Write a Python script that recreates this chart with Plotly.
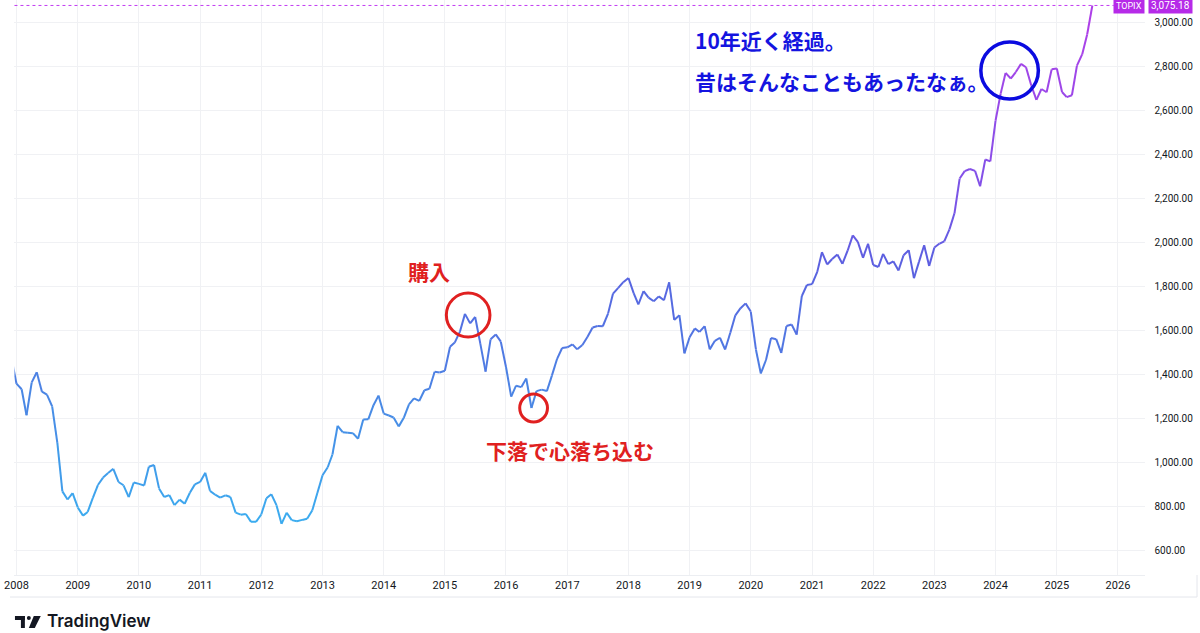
import pandas as pd
import plotly.graph_objects as go
from plotly.colors import sample_colorscale

# TOPIX monthly closes (Dec 2007 -> Aug 2025)
v2007 = [1475.7]
v2008 = [1356.4, 1330.9, 1213.0, 1362.4, 1408.1, 1320.1, 1306.3, 1253.5, 1087.4, 867.1, 830.1, 859.2]
v2009 = [794.0, 756.7, 773.7, 837.8, 895.8, 929.8, 950.3, 969.8, 909.8, 894.7, 841.2, 907.6]
v2010 = [901.1, 894.1, 978.8, 987.0, 880.5, 841.4, 850.2, 804.7, 829.5, 810.9, 860.9, 898.8]
v2011 = [910.1, 951.3, 869.4, 851.9, 838.5, 849.2, 841.4, 770.5, 761.2, 764.1, 728.5, 728.6]
v2012 = [761.9, 836.0, 854.4, 804.3, 719.5, 770.1, 736.3, 731.6, 737.4, 742.3, 781.5, 859.8]
v2013 = [940.3, 976.5, 1034.7, 1165.1, 1135.8, 1133.8, 1131.7, 1106.1, 1194.1, 1194.3, 1258.7, 1302.3]
v2014 = [1220.6, 1211.7, 1202.9, 1162.4, 1201.4, 1262.6, 1289.4, 1278.0, 1326.3, 1333.6, 1410.3, 1407.5]
v2015 = [1415.1, 1523.9, 1543.1, 1592.8, 1673.7, 1630.4, 1659.5, 1537.1, 1411.2, 1558.2, 1580.3, 1547.3]
v2016 = [1432.1, 1297.9, 1347.2, 1340.6, 1379.8, 1245.8, 1322.7, 1329.5, 1322.8, 1393.0, 1469.4, 1518.6]
v2017 = [1521.7, 1535.3, 1512.6, 1531.8, 1568.4, 1611.9, 1618.6, 1617.4, 1674.8, 1766.0, 1792.1, 1817.6]
v2018 = [1836.7, 1768.2, 1716.3, 1777.2, 1747.5, 1730.9, 1753.3, 1735.4, 1817.3, 1646.1, 1667.5, 1494.1]
v2019 = [1567.5, 1607.7, 1591.6, 1617.9, 1512.3, 1551.1, 1565.1, 1511.9, 1587.8, 1667.0, 1699.4, 1721.4]
v2020 = [1684.4, 1510.9, 1403.0, 1464.0, 1563.7, 1558.8, 1496.1, 1618.2, 1625.5, 1579.3, 1754.9, 1804.7]
v2021 = [1808.8, 1864.5, 1954.0, 1898.2, 1923.0, 1943.6, 1901.1, 1960.7, 2030.2, 2001.2, 1928.4, 1992.3]
v2022 = [1895.9, 1886.9, 1946.4, 1899.6, 1912.7, 1870.8, 1940.3, 1963.2, 1835.9, 1910.0, 1985.6, 1891.7]
v2023 = [1975.3, 1993.3, 2003.5, 2057.5, 2130.6, 2288.6, 2322.6, 2332.0, 2323.4, 2253.7, 2374.9, 2366.4]
v2024 = [2551.1, 2675.7, 2768.6, 2743.2, 2772.5, 2809.6, 2794.3, 2712.6, 2645.9, 2695.5, 2680.7, 2784.9]
v2025 = [2788.7, 2682.1, 2658.7, 2667.3, 2801.6, 2852.8, 2943.1, 3075.18]

topix = (v2007 + v2008 + v2009 + v2010 + v2011 + v2012 + v2013 + v2014 + v2015
         + v2016 + v2017 + v2018 + v2019 + v2020 + v2021 + v2022 + v2023 + v2024 + v2025)
months = pd.date_range("2007-12-01", periods=len(topix), freq="MS")
last_value = topix[-1]

W, H = 1200, 633


def px(x):
    return x / W


def py(y):
    return 1 - y / H


# price-based gradient like the TradingView line
grad = [[0.0, "#3aaef0"], [0.25, "#4a86e4"], [0.5, "#5a60e0"],
        [0.67, "#8450e8"], [1.0, "#b43ee8"]]
lo, hi = 700, 3100

fig = go.Figure()
for i in range(len(topix) - 1):
    mid = (topix[i] + topix[i + 1]) / 2
    t = min(max((mid - lo) / (hi - lo), 0), 1)
    col = sample_colorscale(grad, [t])[0]
    fig.add_trace(go.Scatter(
        x=months[i:i + 2], y=topix[i:i + 2], mode="lines",
        line=dict(color=col, width=2), hoverinfo="skip", showlegend=False
    ))

shapes = []
# last price dotted line
shapes.append(dict(type="line", xref="paper", yref="y", x0=px(4.5), x1=px(1113),
                   y0=last_value, y1=last_value,
                   line=dict(color="#c23cf2", width=1, dash="dot")))
# circles
shapes.append(dict(type="circle", xref="paper", yref="paper",
                   x0=px(440), x1=px(484), y0=py(337), y1=py(293),
                   line=dict(color="#e02020", width=3)))
shapes.append(dict(type="circle", xref="paper", yref="paper",
                   x0=px(514), x1=px(542), y0=py(422), y1=py(394),
                   line=dict(color="#e02020", width=3)))
shapes.append(dict(type="circle", xref="paper", yref="paper",
                   x0=px(979), x1=px(1037), y0=py(99), y1=py(42),
                   line=dict(color="#0b0be0", width=3.5)))
# bottom border of time scale
shapes.append(dict(type="line", xref="paper", yref="paper", x0=0, x1=px(1197),
                   y0=py(597), y1=py(597), line=dict(color="#e4e6ec", width=1)))
shapes.append(dict(type="line", xref="paper", yref="paper", x0=px(1197), x1=px(1197),
                   y0=py(575), y1=py(597), line=dict(color="#e4e6ec", width=1)))
# TradingView logo
logo = "#131722"
shapes.append(dict(type="rect", xref="paper", yref="paper", x0=px(5), x1=px(15),
                   y0=py(620), y1=py(616), fillcolor=logo, line=dict(width=0)))
shapes.append(dict(type="rect", xref="paper", yref="paper", x0=px(11), x1=px(15),
                   y0=py(628), y1=py(616), fillcolor=logo, line=dict(width=0)))
shapes.append(dict(type="circle", xref="paper", yref="paper", x0=px(17), x1=px(21),
                   y0=py(620), y1=py(616), fillcolor=logo, line=dict(width=0)))
shapes.append(dict(type="path", xref="paper", yref="paper",
                   path=f"M {px(24)},{py(616)} L {px(31)},{py(616)} L {px(25)},{py(628)} L {px(19)},{py(628)} Z",
                   fillcolor=logo, line=dict(width=0)))

jp = "Noto Sans CJK JP"
red = "#e02020"
blue = "#1414e0"
annotations = [
    dict(text="購入", x=px(423), y=py(271), xanchor="center", yanchor="middle",
         font=dict(family=jp, size=21, color=red, weight="bold")),
    dict(text="下落で心落ち込む", x=px(478), y=py(450), xanchor="left", yanchor="middle",
         font=dict(family=jp, size=21, color=red, weight="bold")),
    dict(text="10年近く経過。", x=px(689), y=py(40), xanchor="left", yanchor="middle",
         font=dict(family=jp, size=21, color=blue, weight="bold")),
    dict(text="昔はそんなこともあったなぁ。", x=px(689), y=py(81), xanchor="left", yanchor="middle",
         font=dict(family=jp, size=21, color=blue, weight="bold")),
    dict(text="TOPIX", x=px(1128), y=py(6), xanchor="center", yanchor="middle",
         bgcolor="#b62ae8", borderpad=2,
         font=dict(family="Roboto", size=9, color="white")),
    dict(text="3,075.18", x=px(1170), y=py(6), xanchor="center", yanchor="middle",
         bgcolor="#b62ae8", borderpad=2,
         font=dict(family="Roboto", size=10, color="white")),
    dict(text="TradingView", x=px(35), y=py(621), xanchor="left", yanchor="middle",
         font=dict(family="Inter", size=17, color=logo, weight=600)),
]
for a in annotations:
    a.update(xref="paper", yref="paper", showarrow=False)

fig.update_layout(
    width=W, height=H,
    margin=dict(l=0, r=0, t=0, b=0),
    paper_bgcolor="white", plot_bgcolor="white",
    shapes=shapes, annotations=annotations,
    xaxis=dict(
        domain=[px(4.5), px(1145)],
        range=["2007-12-20", "2026-06-14"],
        type="date", tick0="2008-01-01", dtick="M12", tickformat="%Y",
        showgrid=True, gridcolor="#f0f1f4", gridwidth=1,
        showline=True, linecolor="#eceef2", zeroline=False,
        ticklabeloverflow="allow",
        tickfont=dict(family="Roboto", size=11, color="#131722"),
    ),
    yaxis=dict(
        domain=[py(575), 1],
        range=[487, 3100], side="right",
        tick0=0, dtick=200, tickformat=",.2f",
        showgrid=True, gridcolor="#f0f1f4", gridwidth=1,
        zeroline=False, ticklabelstandoff=8,
        tickfont=dict(family="Roboto", size=10, color="#131722"),
    ),
)

fig.write_html(
    "out.html",
    config={"displayModeBar": False},
    post_script="document.body.style.margin='0';document.body.style.overflow='hidden';",
)
